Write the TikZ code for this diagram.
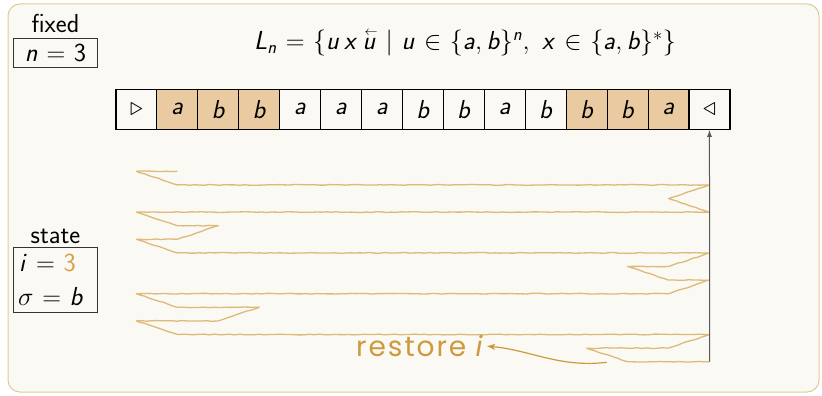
\RequirePackage{fix-cm}
\documentclass[tikz,border=0pt]{standalone}
\usepackage[no-math]{fontspec}
\newfontfamily\handfont[LetterSpace=7]{Poppins}
\usetikzlibrary{decorations.pathmorphing,arrows.meta}
\DeclareSymbolFont{sfit}{OT1}{cmss}{m}{sl}
\DeclareSymbolFont{sfup}{OT1}{cmss}{m}{n}
\DeclareMathSymbol{a}{\mathalpha}{sfit}{`a}
\DeclareMathSymbol{b}{\mathalpha}{sfit}{`b}
\DeclareMathSymbol{i}{\mathalpha}{sfit}{`i}
\DeclareMathSymbol{n}{\mathalpha}{sfit}{`n}
\DeclareMathSymbol{u}{\mathalpha}{sfit}{`u}
\DeclareMathSymbol{x}{\mathalpha}{sfit}{`x}
\DeclareMathSymbol{L}{\mathalpha}{sfit}{`L}
\DeclareMathSymbol{3}{\mathalpha}{sfup}{`3}
\thickmuskip=6mu plus 5mu
\newcommand\revu{\mathord{\stackrel{\kern2pt\scriptscriptstyle\leftarrow}{u}}}
\definecolor{bgc}{RGB}{250,249,244}
\definecolor{framec}{RGB}{226,202,152}
\definecolor{tracec}{RGB}{221,186,120}
\definecolor{hlc}{RGB}{233,202,161}
\definecolor{goldc}{RGB}{212,160,72}
\definecolor{restc}{RGB}{205,155,60}
\tikzset{
  every node/.style={font=\fontsize{26}{31}\selectfont\sffamily},
  tapecell/.style={draw=black, line width=1.1pt, minimum width=40.93pt, minimum height=40pt, inner sep=0pt},
  tapeplain/.style={fill=bgc},
  tapehl/.style={fill=hlc},
  infobox/.style={draw=black!80, line width=0.8pt, inner sep=0pt},
  trace/.style={draw=tracec, line width=1.3pt, line join=round,
    decorate, decoration={random steps, segment length=5pt, amplitude=0.4pt}},
  axisline/.style={draw=black!65, line width=1pt, -{Latex[length=7pt,width=5pt]}},
  restlabel/.style={text=restc, font=\fontsize{28}{33}\selectfont\handfont, inner sep=2pt},
  restarrow/.style={draw=restc, line width=1.2pt, -{Stealth[length=8pt,width=6pt,inset=2pt]}}
}
\begin{document}
\begin{tikzpicture}[x=1pt,y=-1pt]
\useasboundingbox (0,0) rectangle (822,396);
\draw[rounded corners=12pt, fill=bgc, draw=framec, line width=1pt] (8,4) rectangle (819,392);

% fixed box
\node[anchor=base] (fixedlbl) at (55.5,33) {fixed};
\node[infobox, minimum width=84.4pt, minimum height=29.4pt] (fixedbox) at (55.5,53) {$n = 3$};

% formula
\node[anchor=base] (formula) at (465,50) {$L_n = \{u\,x\,\revu \mid u \in \{a, b\}^n,\ x \in \{a, b\}^*\}$};

% tape
\foreach \s/\f [count=\k from 0] in {{$\triangleright$}/tapeplain, $a$/tapehl, $b$/tapehl, $b$/tapehl, $a$/tapeplain, $a$/tapeplain, $a$/tapeplain, $b$/tapeplain, $b$/tapeplain, $a$/tapeplain, $b$/tapeplain, $b$/tapehl, $b$/tapehl, $a$/tapehl, {$\triangleleft$}/tapeplain}
  \node[tapecell, \f] (t\k) at ({116+40.93*(\k+0.5)},109.3) {\s};

% state box
\node[anchor=base] (statelbl) at (55.5,243) {state};
\node[infobox, minimum width=84.4pt, minimum height=64.6pt] (statebox) at (55.5,280) {};
\node[anchor=base west, inner sep=0pt] (ival) at (19,271.7) {$i = \textcolor{goldc}{3}$};
\node[anchor=base west, inner sep=0pt] (sval) at (18,305) {$\sigma = b$};

% trace
\begin{scope}[shift={(136.5,171.3)}, x=40.93pt, y=-13.6pt]
\coordinate (start) at (14,14);
\pgfmathsetseed{7}
\draw[trace] (14,14) -- (12,14) -- (11,13) -- (13,13) -- (14,12) -- (1,12) -- (0,11) -- (2,11) -- (3,10) -- (1,10) -- (0,9) -- (13,9) -- (14,8) -- (13,8) -- (12,7) -- (13,7) -- (14,6) -- (1,6) -- (0,5) -- (1,5) -- (2,4) -- (1,4) -- (0,3) -- (14,3) -- (13,2) -- (14,1) -- (1,1) -- (0,0) -- (1,0);
\end{scope}

% time axis
\draw[axisline] (start) -- (t14.south);

% restore label
\node[restlabel, anchor=base west] (rs) at (354,356.7) {restore \textit{i}};
\coordinate (rtail) at (606.7,362.3);
\draw[restarrow] (rtail) .. controls (560,368) and (530,350) .. (rs.east);
\end{tikzpicture}
\end{document}
